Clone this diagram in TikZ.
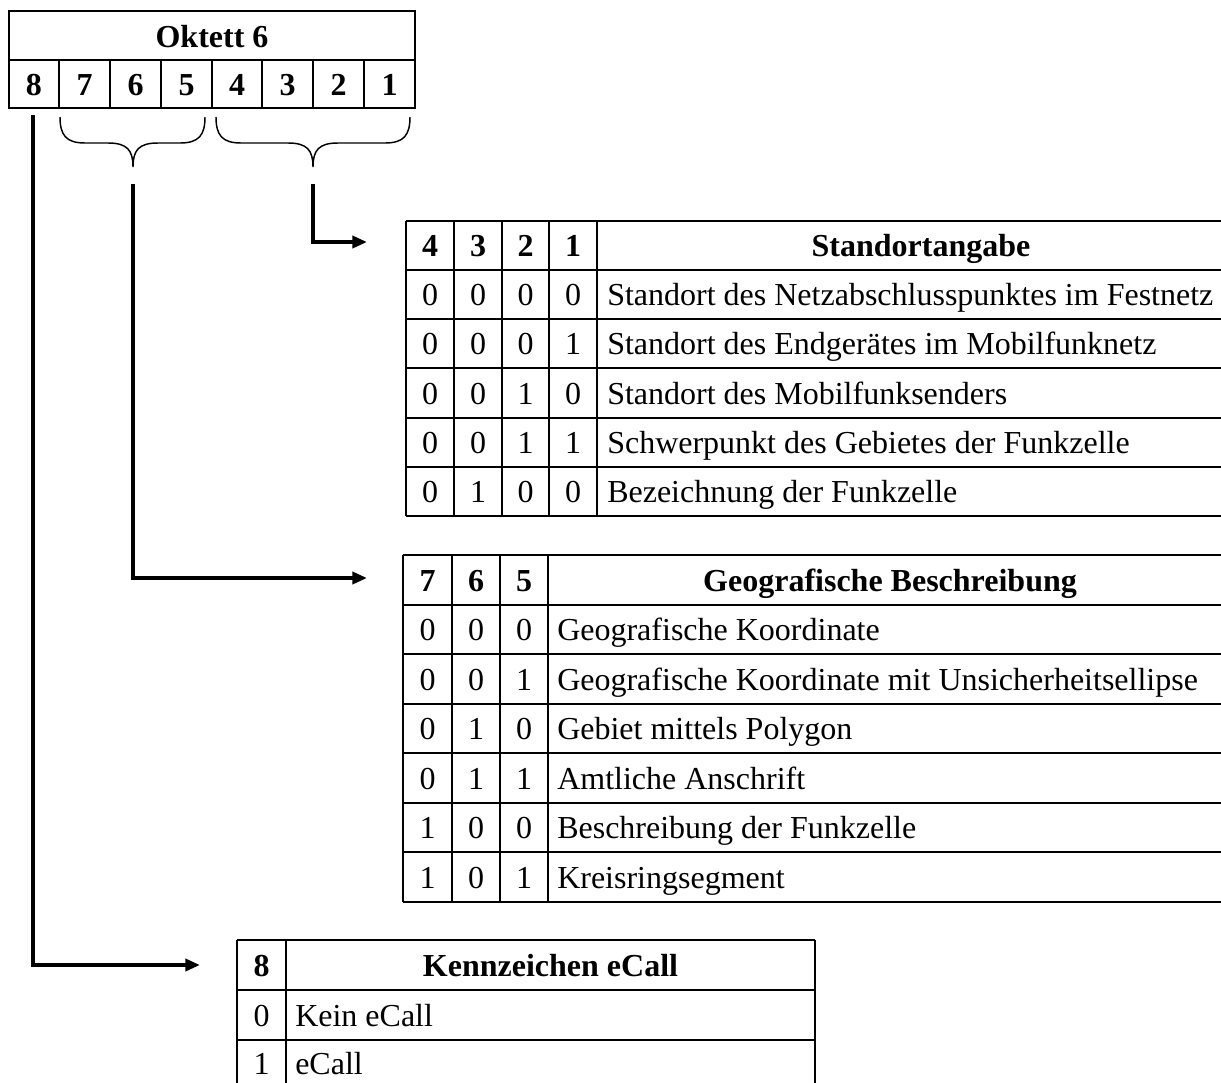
\documentclass[tikz,border=0pt]{standalone}
\usepackage{fontspec}
\setmainfont{Liberation Serif}
\usetikzlibrary{arrows.meta}
\begin{document}
\begin{tikzpicture}[x=0.75pt,y=-0.75pt,
  rule/.style={line width=2pt},
  link/.style={line width=2.8pt,-{Triangle[length=11pt,width=9pt]}},
  bracepath/.style={line width=1.1pt},
  txt/.style={font=\fontsize{24}{28}\selectfont, inner sep=0pt, anchor=base},
  hd/.style={txt,font=\fontsize{24}{28}\selectfont\bfseries},
  lbl/.style={txt,anchor=base west}]
\useasboundingbox (0,0) rectangle (1221,1082);
\clip (0,0) rectangle (1221,1082);

% ---- Octet 6 bit layout ----
\draw[rule] (9,11) rectangle (415,108);
\draw[rule] (9,60) -- (415,60);
\foreach \x in {59,110,161,212,262,313,364} \draw[rule] (\x,60) -- (\x,108);
\node[hd] (okt) at (212,47) {Oktett 6};
\foreach \b/\x in {8/34,7/84.5,6/135.5,5/186.5,4/237,3/287.5,2/338.5,1/389.5}
  \node[hd] (b\b) at (\x,95) {\b};

% ---- braces grouping bits 7..5 and 4..1 ----
\draw[bracepath] (60,117) .. controls (60,135) and (66,143) .. (85,143) -- (108,143)
  .. controls (127,143) and (133,150) .. (133,167)
  .. controls (133,150) and (139,143) .. (158,143) -- (180,143)
  .. controls (199,143) and (205,135) .. (205,117);
\draw[bracepath] (216,117) .. controls (216,135) and (222,143) .. (241,143) -- (288,143)
  .. controls (307,143) and (313,150) .. (313,167)
  .. controls (313,150) and (319,143) .. (338,143) -- (385,143)
  .. controls (404,143) and (410,135) .. (410,117);

% ---- connector ends ----
\coordinate (s8) at (33,115);
\coordinate (s765) at (133,184);
\coordinate (s4321) at (313,184);
\coordinate (e4321) at (367,242);
\coordinate (e765) at (367,578);
\coordinate (e8) at (200,965);

\draw[link] (s4321) |- (e4321);
\draw[link] (s765) |- (e765);
\draw[link] (s8) |- (e8);

% ---- table: Standortangabe ----
\foreach \y in {221,270,319,368,418,467,516} \draw[rule] (406,\y) -- (1240,\y);
\foreach \x in {406,454,502,549,597} \draw[rule] (\x,221) -- (\x,516);
\foreach \b/\x in {4/430,3/478,2/525.5,1/573}
  \node[hd] (sa\b) at (\x,256.5) {\b};
\node[hd] (sah) at (921,256.5) {Standortangabe};
\foreach \r/\yc/\d/\c/\bb/\a/\t in {
  1/294.5/0/0/0/0/Standort des Netzabschlusspunktes im Festnetz,
  2/343.5/0/0/0/1/Standort des Endgerätes im Mobilfunknetz,
  3/393/0/0/1/0/Standort des Mobilfunksenders,
  4/442.5/0/0/1/1/Schwerpunkt des Gebietes der Funkzelle,
  5/491.5/0/1/0/0/Bezeichnung der Funkzelle}{
  \node[txt] (sa\r d) at (430,\yc+11) {\d};
  \node[txt] (sa\r c) at (478,\yc+11) {\c};
  \node[txt] (sa\r b) at (525.5,\yc+11) {\bb};
  \node[txt] (sa\r a) at (573,\yc+11) {\a};
  \node[lbl] (sa\r t) at (607,\yc+11) {\t};
}

% ---- table: Geografische Beschreibung ----
\foreach \y in {555,605,654,704,753,803,852,902} \draw[rule] (403,\y) -- (1240,\y);
\foreach \x in {403,452,500,548} \draw[rule] (\x,555) -- (\x,902);
\foreach \b/\x in {7/427.5,6/476,5/524}
  \node[hd] (gb\b) at (\x,591) {\b};
\node[hd] (gbh) at (890,591) {Geografische Beschreibung};
\foreach \r/\yc/\c/\bb/\a/\t in {
  1/629.5/0/0/0/Geografische Koordinate,
  2/679/0/0/1/Geografische Koordinate mit Unsicherheitsellipse,
  3/728.5/0/1/0/Gebiet mittels Polygon,
  4/778/0/1/1/Amtliche Anschrift,
  5/827.5/1/0/0/Beschreibung der Funkzelle,
  6/877/1/0/1/Kreisringsegment}{
  \node[txt] (gb\r c) at (427.5,\yc+11) {\c};
  \node[txt] (gb\r b) at (476,\yc+11) {\bb};
  \node[txt] (gb\r a) at (524,\yc+11) {\a};
  \node[lbl] (gb\r t) at (557,\yc+11) {\t};
}

% ---- table: Kennzeichen eCall ----
\foreach \y in {940,990,1040} \draw[rule] (237,\y) -- (815,\y);
\foreach \x in {237,286,815} \draw[rule] (\x,940) -- (\x,1090);
\node[hd] (ec8) at (261.5,976) {8};
\node[hd] (ech) at (550.5,976) {Kennzeichen eCall};
\node[txt] (ec1a) at (261.5,1026) {0};
\node[lbl] (ec1t) at (295,1026) {Kein eCall};
\node[txt] (ec2a) at (261.5,1074) {1};
\node[lbl] (ec2t) at (295,1074) {eCall};
\end{tikzpicture}
\end{document}
